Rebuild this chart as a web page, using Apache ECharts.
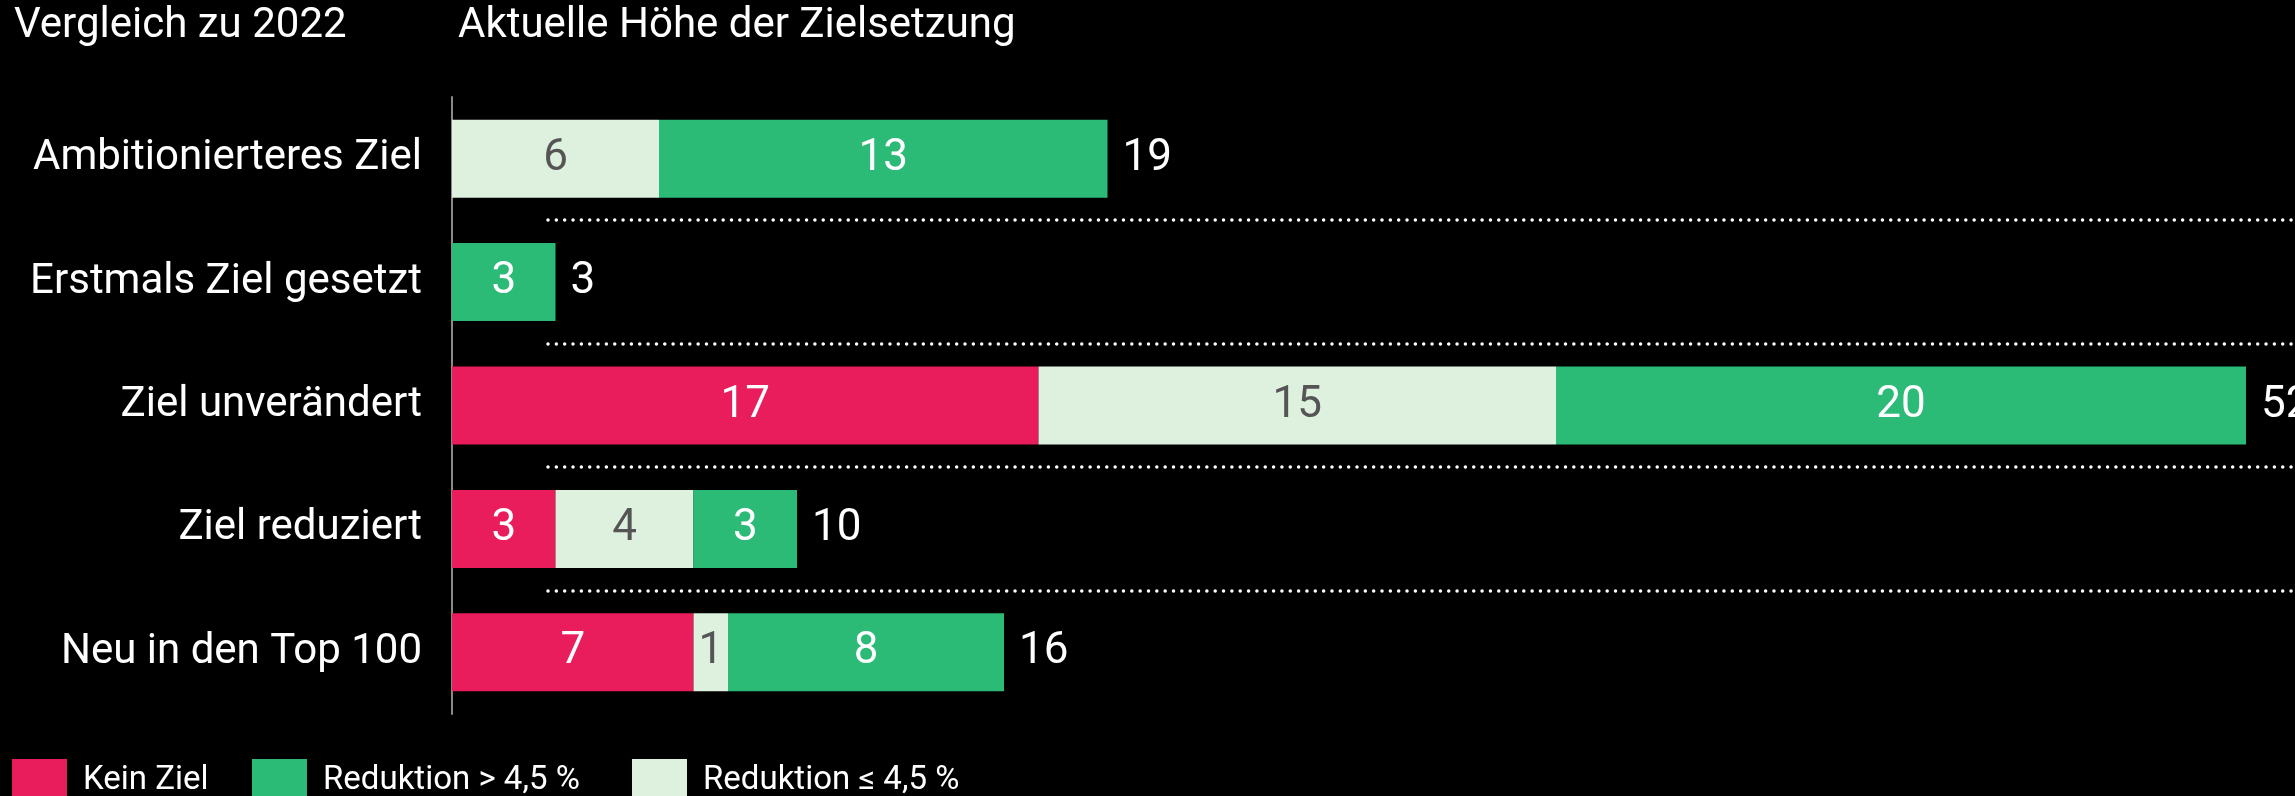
<!DOCTYPE html>
<html lang="de">
<head>
    <meta charset="UTF-8">
    <title>Zielsetzung Vergleich zu 2022</title>
    <script src="https://cdn.jsdelivr.net/npm/echarts@6/dist/echarts.min.js"></script>
    <style>
        html, body { margin: 0; padding: 0; background: #000; }
        #chart { width: 2295px; height: 796px; }
    </style>
</head>
<body>
    <div id="chart"></div>
    <script>
        // Daten
        var categories = ['Ambitionierteres Ziel', 'Erstmals Ziel gesetzt', 'Ziel unverändert', 'Ziel reduziert', 'Neu in den Top 100'];
        var keinZiel = [0, 0, 17, 3, 7];
        var reduktionKlein = [6, 0, 15, 4, 1];   // Reduktion ≤ 4,5 %
        var reduktionGross = [13, 3, 20, 3, 8];  // Reduktion > 4,5 %

        var totals = categories.map(function (c, i) {
            return keinZiel[i] + reduktionKlein[i] + reduktionGross[i];
        });
        var separators = categories.slice(1).map(function (c, i) { return [0, i + 1]; });

        var FONT = 'Roboto';
        var FS = 42;      // Achsen- und Titeltext
        var FS_NUM = 44;  // Zahlen

        function hideZero(p) { return p.value ? p.value : ''; }

        var chart = echarts.init(document.getElementById('chart'));

        // eine Legende pro Eintrag, damit die Abstände wie im Original sind
        function legendAt(left, name) {
            return {
                left: left, top: 759, orient: 'horizontal',
                itemWidth: 55, itemHeight: 44, selectedMode: false,
                icon: 'rect', padding: 0,
                data: [name],
                textStyle: { color: '#fff', fontSize: 33, fontFamily: FONT, padding: [0, 0, 0, 11] }
            };
        }

        var option = {
            backgroundColor: '#000',
            animation: false,
            title: [
                { text: 'Vergleich zu 2022', left: 14, top: 5, padding: 0,
                  textStyle: { color: '#fff', fontSize: FS, fontWeight: 'normal', fontFamily: FONT } },
                { text: 'Aktuelle Höhe der Zielsetzung', left: 458, top: 5, padding: 0,
                  textStyle: { color: '#fff', fontSize: FS, fontWeight: 'normal', fontFamily: FONT } }
            ],
            legend: [
                legendAt(12, 'Kein Ziel'),
                legendAt(252, 'Reduktion > 4,5 %'),
                legendAt(632, 'Reduktion ≤ 4,5 %')
            ],
            grid: { left: 452, right: 49, top: 97, bottom: 82 },
            xAxis: {
                type: 'value', min: 0, max: 52, show: false
            },
            yAxis: {
                type: 'category', data: categories, inverse: true,
                axisLine: { show: true, lineStyle: { color: '#8a8a8a', width: 2 } },
                axisTick: { show: false },
                axisLabel: { color: '#fff', fontSize: FS, fontFamily: FONT, margin: 30 }
            },
            series: [
                {
                    name: 'Kein Ziel', type: 'bar', stack: 'ziel', data: keinZiel,
                    barWidth: 78, barGap: '-100%',
                    itemStyle: { color: '#E91D5B' },
                    label: { show: true, position: 'inside', color: '#fff', fontSize: FS_NUM, fontFamily: FONT, formatter: hideZero }
                },
                {
                    name: 'Reduktion ≤ 4,5 %', type: 'bar', stack: 'ziel', data: reduktionKlein,
                    barWidth: 78, barGap: '-100%',
                    itemStyle: { color: '#DEF1DF' },
                    label: { show: true, position: 'inside', color: '#555', fontSize: FS_NUM, fontFamily: FONT, formatter: hideZero }
                },
                {
                    name: 'Reduktion > 4,5 %', type: 'bar', stack: 'ziel', data: reduktionGross,
                    barWidth: 78, barGap: '-100%',
                    itemStyle: { color: '#2BBB77' },
                    label: { show: true, position: 'inside', color: '#fff', fontSize: FS_NUM, fontFamily: FONT, formatter: hideZero }
                },
                {
                    name: 'Summe', type: 'bar', data: totals, silent: true,
                    barWidth: 78, barGap: '-100%', z: 1,
                    itemStyle: { color: 'rgba(0,0,0,0)' },
                    label: { show: true, position: 'right', distance: 15, color: '#fff', fontSize: FS_NUM, fontFamily: FONT }
                },
                {
                    name: 'Trennlinien', type: 'custom', data: separators, clip: false, silent: true,
                    encode: { x: 0, y: 1 },
                    renderItem: function (params, api) {
                        var c = api.coord([0, api.value(1)]);
                        var band = api.size([0, 1])[1];
                        var y = Math.round(c[1] - band / 2);
                        return {
                            type: 'line',
                            shape: { x1: c[0] + 96, y1: y, x2: api.getWidth(), y2: y },
                            style: { stroke: '#fff', lineWidth: 3.5, lineDash: [0.01, 8.33], lineCap: 'round' }
                        };
                    }
                }
            ]
        };
        chart.setOption(option);
    </script>
</body>
</html>
